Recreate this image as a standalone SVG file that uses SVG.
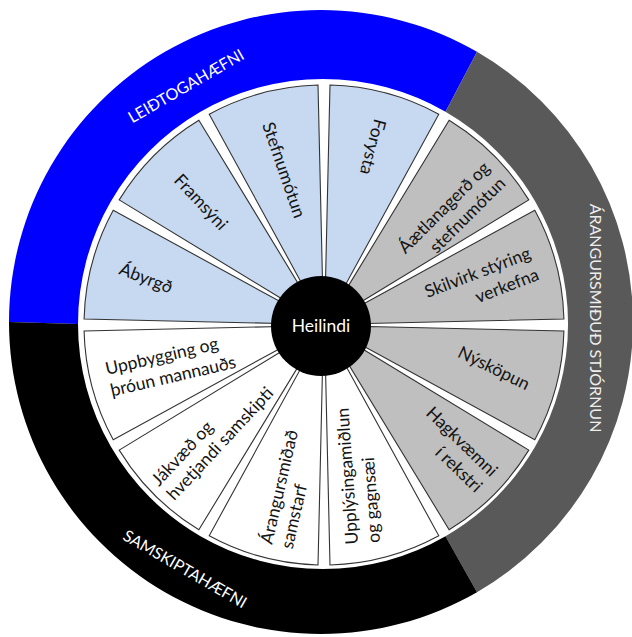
<svg xmlns="http://www.w3.org/2000/svg" width="632" height="637" viewBox="0 0 632 637">
<style>
  text { font-family: Lato, "Liberation Sans", sans-serif; font-size: 17.5px; }
  .seg { stroke: #333333; stroke-width: 1.1; stroke-linejoin: miter; }
  .lead { fill: #c6d9f1; }
  .res { fill: #bfbfbf; }
  .com { fill: #ffffff; }
  .lbl { fill: #141414; }
  .ringlbl { fill: #ffffff; }
  .rl { font-size: 16px; }
  .mid { text-anchor: middle; }
  .end { text-anchor: end; }
</style>
<rect width="632" height="637" fill="#ffffff"/>

<g id="ring-leidtogahaefni">
  <path d="M 9 322 A 312 312 0 0 1 477 51.8 L 445.5 111.8 A 245 245 0 0 0 78 324 Z" fill="#0000ff"/>
  <text class="ringlbl rl mid" transform="translate(186 86) rotate(-30)" dy="0.35em">LEIÐTOGAHÆFNI</text>
</g>
<g id="ring-arangursmidud-stjornun">
  <path d="M 477 51.8 A 312 312 0 0 1 477 592.2 L 445.5 536.2 A 245 245 0 0 0 445.5 111.8 Z" fill="#595959"/>
  <text class="rl mid" fill="#eeeeee" transform="translate(596 318) rotate(90)" dy="0.35em">ÁRANGURSMIÐUÐ STJÓRNUN</text>
</g>
<g id="ring-samskiptahaefni">
  <path d="M 477 592.2 A 312 312 0 0 1 9 322 L 78 324 A 245 245 0 0 0 445.5 536.2 Z" fill="#000000"/>
  <text class="ringlbl rl mid" transform="translate(185 569) rotate(30)" dy="0.35em">SAMSKIPTAHÆFNI</text>
</g>

<g id="seg-abyrgd">
  <path class="seg lead" d="M 280.03 323.5 L 84.07 319.01 A 240 240 0 0 1 113.22 210.22 L 285.17 304.31 Z"/>
  <text class="lbl mid" transform="translate(146 278) rotate(21)" dy="0.35em">Ábyrgð</text>
</g>
<g id="seg-framsyni">
  <path class="seg lead" d="M 286.66 301.72 L 119.21 199.85 A 240 240 0 0 1 198.85 120.21 L 300.72 287.66 Z"/>
  <text class="lbl mid" transform="translate(201 202) rotate(47)" dy="0.35em">Framsýni</text>
</g>
<g id="seg-stefnumotun">
  <path class="seg lead" d="M 303.31 286.17 L 209.22 114.22 A 240 240 0 0 1 318.01 85.07 L 322.5 281.03 Z"/>
  <text class="lbl mid" transform="translate(284 170) rotate(71)" dy="0.35em">Stefnumótun</text>
</g>
<g id="seg-forysta">
  <path class="seg lead" d="M 325.5 281.03 L 329.99 85.07 A 240 240 0 0 1 438.78 114.22 L 344.69 286.17 Z"/>
  <text class="lbl mid" transform="translate(373 147) rotate(105)" dy="0.35em">Forysta</text>
</g>
<g id="seg-aaetlanagerd">
  <path class="seg res" d="M 347.28 287.66 L 449.15 120.21 A 240 240 0 0 1 528.79 199.85 L 361.34 301.72 Z"/>
  <text class="lbl end" transform="translate(491 169) rotate(-45)"><tspan x="0" y="0">Áætlanagerð og</tspan><tspan x="0" y="22">stefnumótun</tspan></text>
</g>
<g id="seg-skilvirk">
  <path class="seg res" d="M 362.83 304.31 L 534.78 210.22 A 240 240 0 0 1 563.93 319.01 L 367.97 323.5 Z"/>
  <text class="lbl end" transform="translate(532 258) rotate(-21)"><tspan x="0" y="0">Skilvirk stýring</tspan><tspan x="0" y="23">verkefna</tspan></text>
</g>
<g id="seg-nyskopun">
  <path class="seg res" d="M 367.97 326.5 L 563.93 330.99 A 240 240 0 0 1 534.78 439.78 L 362.83 345.69 Z"/>
  <text class="lbl mid" transform="translate(494 368) rotate(26)" dy="0.35em">Nýsköpun</text>
</g>
<g id="seg-hagkvaemni">
  <path class="seg res" d="M 361.34 348.28 L 528.79 450.15 A 240 240 0 0 1 449.15 529.79 L 347.28 362.34 Z"/>
  <text class="lbl end" transform="translate(490.5 477.6) rotate(44)"><tspan x="0" y="0">Hagkvæmni</tspan><tspan x="0" y="22">í rekstri</tspan></text>
</g>
<g id="seg-upplysingamidlun">
  <path class="seg com" d="M 344.69 363.83 L 438.78 535.78 A 240 240 0 0 1 329.99 564.93 L 325.5 368.97 Z"/>
  <text class="lbl" transform="translate(358 544) rotate(-94)"><tspan x="0" y="0">Upplýsingamiðlun</tspan><tspan x="0" y="22">og gagnsæi</tspan></text>
</g>
<g id="seg-arangursmidad">
  <path class="seg com" d="M 322.5 368.97 L 318.01 564.93 A 240 240 0 0 1 209.22 535.78 L 303.31 363.83 Z"/>
  <text class="lbl" transform="translate(272 545) rotate(-77)"><tspan x="0" y="0">Árangursmiðað</tspan><tspan x="0" y="21">samstarf</tspan></text>
</g>
<g id="seg-jakvaed">
  <path class="seg com" d="M 300.72 362.34 L 198.85 529.79 A 240 240 0 0 1 119.21 450.15 L 286.66 348.28 Z"/>
  <text class="lbl" transform="translate(159 487) rotate(-47)"><tspan x="0" y="0">Jákvæð og</tspan><tspan x="0" y="21">hvetjandi samskipti</tspan></text>
</g>
<g id="seg-uppbygging">
  <path class="seg com" d="M 285.17 345.69 L 113.22 439.78 A 240 240 0 0 1 84.07 330.99 L 280.03 326.5 Z"/>
  <text class="lbl" transform="translate(107 375) rotate(-13)"><tspan x="0" y="0">Uppbygging og</tspan><tspan x="0" y="22">þróun mannauðs</tspan></text>
</g>

<g id="center-heilindi">
  <circle cx="321" cy="326" r="50" fill="#000000"/>
  <text class="ringlbl mid" x="321" y="326" dy="0.35em">Heilindi</text>
</g>
</svg>
